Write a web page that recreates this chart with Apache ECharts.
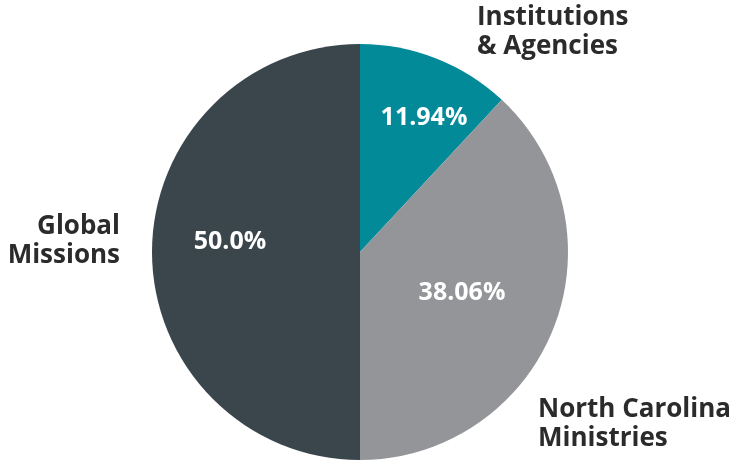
<!DOCTYPE html>
<html><head><meta charset="utf-8">
<script src="https://cdn.jsdelivr.net/npm/echarts@6/dist/echarts.min.js"></script>
<style>html,body{margin:0;padding:0;background:#fff}#c{width:736px;height:466px}</style>
</head><body><div id="c"></div>
<script>
const categories = ['Institutions\n& Agencies', 'North Carolina\nMinistries', 'Global\nMissions'];
const values = [11.94, 38.06, 50.0];
const pctLabels = ['11.94%', '38.06%', '50.0%'];
const colors = ['#028a99', '#939598', '#3b464c'];

const innerPos = [[424, 118], [462, 293], [230, 242]];
const outerPos = [[477, 32, 'left'], [538, 424, 'left'], [120, 241, 'right']];

const chart = echarts.init(document.getElementById('c'));
const data = categories.map((c, i) => ({ name: c, value: values[i], itemStyle: { color: colors[i] } }));
const font = '"Open Sans", Lato, sans-serif';
chart.setOption({
  animation: false,
  series: [
    {
      type: 'pie', center: [360, 252], radius: 208, startAngle: 90, clockwise: true,
      silent: true,
      data: data,
      label: {
        show: true, position: 'inside', color: '#fff', fontSize: 25, fontWeight: 'bold', fontFamily: font,
        overflow: 'none', formatter: p => pctLabels[p.dataIndex]
      },
      labelLine: { show: false },
      labelLayout: p => ({ x: innerPos[p.dataIndex][0], y: innerPos[p.dataIndex][1], align: 'center', verticalAlign: 'middle' })
    },
    {
      type: 'pie', center: [360, 252], radius: 208, startAngle: 90, clockwise: true,
      silent: true,
      data: categories.map((c, i) => ({ name: c, value: values[i] })),
      itemStyle: { color: 'transparent' },
      label: {
        show: true, position: 'outside', color: '#2b2b2b', fontSize: 26, fontWeight: 'bold', fontFamily: font,
        lineHeight: 29, overflow: 'none', formatter: '{b}'
      },
      labelLine: { show: false },
      labelLayout: p => ({ x: outerPos[p.dataIndex][0], y: outerPos[p.dataIndex][1], align: outerPos[p.dataIndex][2], verticalAlign: 'middle' })
    }
  ]
});
</script></body></html>
